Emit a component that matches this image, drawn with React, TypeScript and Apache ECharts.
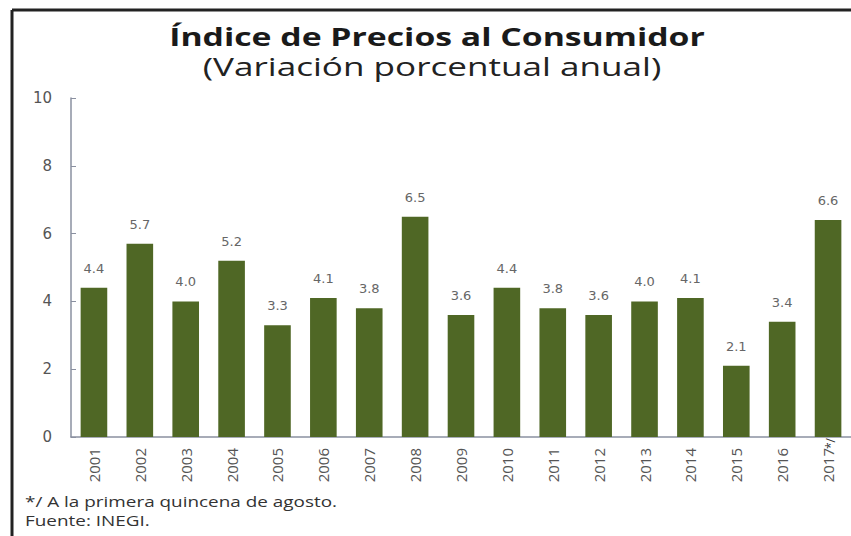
import React, { useEffect, useRef } from "react";
import * as echarts from "echarts";

const categories = ["2001","2002","2003","2004","2005","2006","2007","2008","2009","2010","2011","2012","2013","2014","2015","2016","2017"];
const barValues = [4.4, 5.7, 4.0, 5.2, 3.3, 4.1, 3.8, 6.5, 3.6, 4.4, 3.8, 3.6, 4.0, 4.1, 2.1, 3.4, 6.4];
const valueLabels = ["4.4","5.7","4.0","5.2","3.3","4.1","3.8","6.5","3.6","4.4","3.8","3.6","4.0","4.1","2.1","3.4","6.6"];
const titleText = "Índice de Precios al Consumidor";
const subtitleText = "(Variación porcentual anual)";
const noteLines = ["*/ A la primera quincena de agosto.", "Fuente: INEGI."];
const lastMark = "*/";

export default function App() {
  const ref = useRef<HTMLDivElement>(null);
  useEffect(() => {
    document.body.style.margin = "0";
    const chart = echarts.init(ref.current!, null, { renderer: "svg" });
    const font = "'Open Sans', 'Noto Sans', sans-serif";
    const wide = "'DejaVu Sans', sans-serif";
    const stretch = 1.35;
    chart.setOption({
      animation: false,
      backgroundColor: "#ffffff",
      textStyle: { fontFamily: font },
      grid: { left: 71, right: -2, top: 98, bottom: 99, containLabel: false },
      xAxis: {
        type: "category",
        data: categories,
        axisLine: { lineStyle: { color: "#8a90a0", width: 1.5 } },
        axisTick: { show: false },
        axisLabel: { rotate: 90, margin: 11, fontSize: 15, color: "#555", fontFamily: font },
      },
      yAxis: {
        type: "value",
        min: 0, max: 10, interval: 2,
        splitLine: { show: false },
        axisLine: { show: true, lineStyle: { color: "#8a90a0", width: 1.5 } },
        axisTick: { show: true, inside: true, length: 5, lineStyle: { color: "#8a90a0" } },
        axisLabel: { margin: 19, fontSize: 15, color: "#555", fontFamily: wide },
      },
      series: [
        {
          type: "bar",
          data: barValues,
          barWidth: "58%",
          itemStyle: { color: "#4f6725" },
          label: {
            show: true,
            position: "top",
            distance: 13,
            fontSize: 13,
            color: "#666",
            fontFamily: wide,
            formatter: (p: any) => valueLabels[p.dataIndex],
          },
        },
      ],
      graphic: [
        { type: "line", shape: { x1: 12, y1: 10, x2: 851, y2: 10 }, style: { stroke: "#222", lineWidth: 3 } },
        { type: "line", shape: { x1: 12, y1: 10, x2: 12, y2: 536 }, style: { stroke: "#222", lineWidth: 3 } },
        {
          type: "text", x: 437, y: 36, scaleX: stretch,
          style: { text: titleText, x: 0, y: 0, align: "center", verticalAlign: "middle", fontSize: 25, fontWeight: "bold", fill: "#1a1a1a", fontFamily: font },
        },
        {
          type: "text", x: 432, y: 66, scaleX: stretch,
          style: { text: subtitleText, x: 0, y: 0, align: "center", verticalAlign: "middle", fontSize: 26, fill: "#222", fontFamily: font },
        },
        {
          type: "text", x: 830, y: 449, rotation: Math.PI / 2,
          style: { text: lastMark, x: 0, y: 0, align: "left", verticalAlign: "middle", fontSize: 12, fill: "#333", fontFamily: font },
        },
        {
          type: "text", x: 25, y: 502, scaleX: stretch,
          style: { text: noteLines[0], x: 0, y: 0, align: "left", verticalAlign: "middle", fontSize: 14, fill: "#333", fontFamily: font },
        },
        {
          type: "text", x: 25, y: 521, scaleX: stretch,
          style: { text: noteLines[1], x: 0, y: 0, align: "left", verticalAlign: "middle", fontSize: 14, fill: "#333", fontFamily: font },
        },
      ],
    });
    return () => chart.dispose();
  }, []);
  return <div ref={ref} style={{ width: 851, height: 536, position: "absolute", left: 0, top: 0 }} />;
}
